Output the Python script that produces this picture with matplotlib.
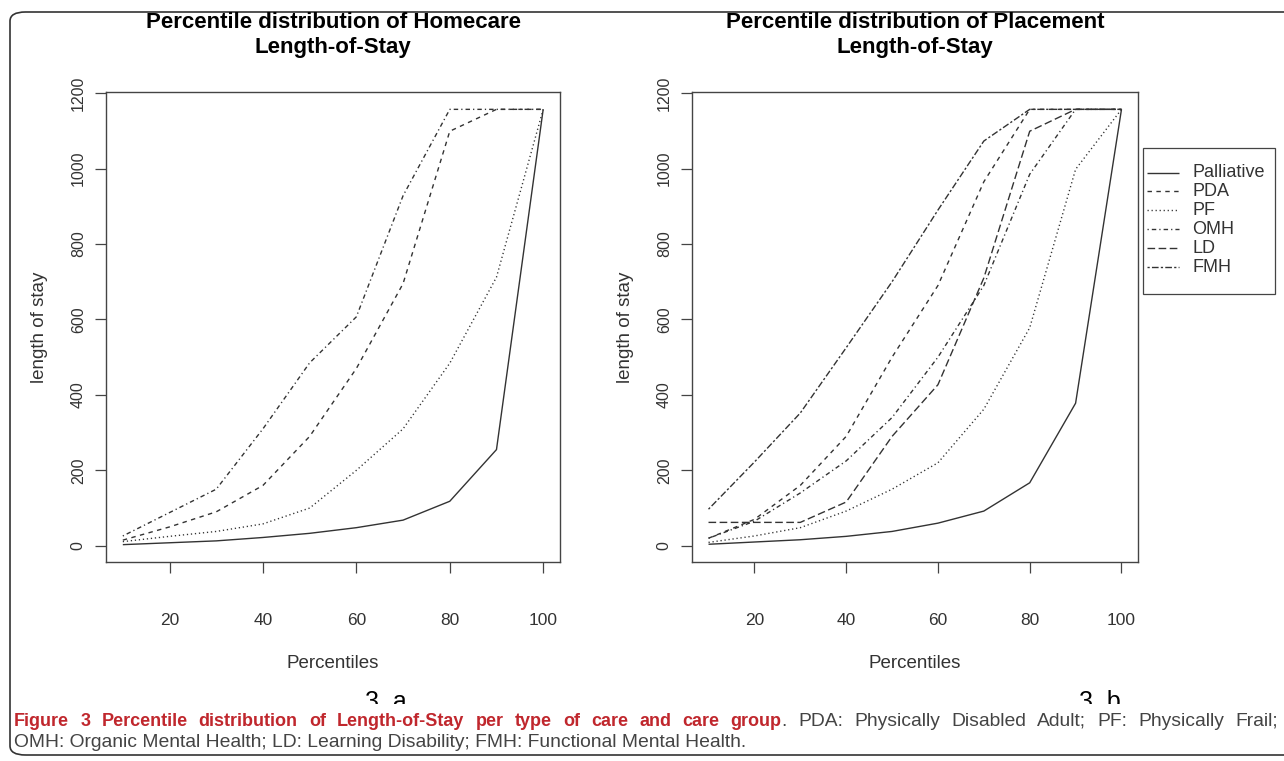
import matplotlib
matplotlib.use("Agg")
import matplotlib.pyplot as plt
from matplotlib.patches import FancyBboxPatch, Rectangle
from matplotlib.lines import Line2D

plt.rcParams["font.family"] = ["Liberation Sans", "DejaVu Sans"]

percentiles = [10, 20, 30, 40, 50, 60, 70, 80, 90, 100]

# homecare (3.a)
home_palliative = [3, 8, 13, 22, 33, 48, 68, 118, 255, 1157]
home_pda = [15, 50, 90, 160, 290, 470, 695, 1099, 1157, 1157]
home_pf = [11, 25, 38, 58, 100, 200, 310, 484, 712, 1157]
home_omh = [26, 88, 150, 310, 485, 607, 928, 1157, 1157, 1157]

# placement (3.b)
place_palliative = [4, 10, 16, 25, 38, 60, 92, 167, 378, 1157]
place_pda = [20, 70, 160, 290, 500, 690, 965, 1157, 1157, 1157]
place_pf = [9, 26, 48, 92, 150, 220, 362, 578, 998, 1157]
place_omh = [20, 65, 140, 225, 340, 500, 690, 985, 1157, 1157]
place_ld = [62, 62, 62, 116, 290, 427, 710, 1099, 1157, 1157]
place_fmh = [97, 222, 352, 525, 700, 890, 1073, 1157, 1157, 1157]

group_names = ["Palliative", "PDA", "PF", "OMH", "LD", "FMH"]
styles = {
    "Palliative": (0, ()),
    "PDA": (0, (3.2, 3.2)),
    "PF": (0, (0.9, 2.0)),
    "OMH": (0, (0.9, 2.2, 3.2, 2.2)),
    "LD": (0, (5.5, 2.5)),
    "FMH": (0, (1.6, 1.6, 4.8, 1.6)),
}
line_col = "#333333"
text_col = "#333333"

W, H = 1284, 761
fig = plt.figure(figsize=(W / 100, H / 100), dpi=100)


def fx(x):
    return x / W


def fy(y):
    return 1 - y / H


def px_axes(x0, y0, x1, y1):
    return fig.add_axes([fx(x0), fy(y1), (x1 - x0) / W, (y1 - y0) / H])


def style_ax(ax, title_lines, xlab_y, ylab_x):
    ax.set_xlim(6.4, 103.6)
    ax.set_ylim(-43, 1203)
    ax.set_xticks([20, 40, 60, 80, 100])
    ax.set_yticks([0, 200, 400, 600, 800, 1000, 1200])
    ax.tick_params(direction="out", length=8, width=0.9, colors="#444444",
                   labelcolor=text_col)
    ax.tick_params(axis="x", pad=29, labelsize=12.5)
    ax.tick_params(axis="y", pad=6.5, labelsize=11.5)
    for lab in ax.get_yticklabels():
        lab.set_rotation(90)
        lab.set_va("center")
    for s in ax.spines.values():
        s.set_linewidth(1.0)
        s.set_color("#444444")
    bb = ax.get_position()
    xc = (bb.x0 + bb.x1) / 2
    yc = (bb.y0 + bb.y1) / 2
    fig.text(xc, fy(xlab_y), "Percentiles", fontsize=13.5, color=text_col,
             ha="center", va="center")
    fig.text(fx(ylab_x), yc, "length of stay", fontsize=13.5, color=text_col,
             ha="center", va="center", rotation=90)
    fig.text(xc, fy(23), title_lines[0], fontsize=16, fontweight="bold",
             ha="center", va="center")
    fig.text(xc, fy(48), title_lines[1], fontsize=16, fontweight="bold",
             ha="center", va="center")


ax1 = px_axes(106, 92, 560, 562)
for name, vals in [("Palliative", home_palliative), ("PDA", home_pda),
                   ("PF", home_pf), ("OMH", home_omh)]:
    ax1.plot(percentiles, vals, color=line_col, lw=1.0, linestyle=styles[name])
style_ax(ax1, ["Percentile distribution of Homecare", "Length-of-Stay"], 663, 39)

ax2 = px_axes(692, 92, 1138, 562)
place = [place_palliative, place_pda, place_pf, place_omh, place_ld, place_fmh]
for name, vals in zip(group_names, place):
    ax2.plot(percentiles, vals, color=line_col, lw=1.0, linestyle=styles[name])
style_ax(ax2, ["Percentile distribution of Placement", "Length-of-Stay"], 663, 625)

# legend drawn by hand so its box matches the original layout
fig.add_artist(Rectangle((fx(1142.5), fy(294)), 132.5 / W, 145.7 / H,
                         transform=fig.transFigure, facecolor="white",
                         edgecolor="#444444", lw=0.9))
for i, name in enumerate(group_names):
    ry = 172.5 + i * 18.9
    fig.add_artist(Line2D([fx(1147), fx(1179)], [fy(ry), fy(ry)],
                          transform=fig.transFigure, color=line_col, lw=1.0,
                          linestyle=styles[name]))
    fig.text(fx(1192), fy(ry), name, fontsize=13, color=text_col,
             ha="left", va="center")

# sub-figure tags, bottom part cut off as in the source
fig.text(fx(386), fy(709), "3. a", fontsize=18, ha="center", va="baseline")
fig.text(fx(1100), fy(709), "3. b", fontsize=18, ha="center", va="baseline")
fig.add_artist(Rectangle((0.02, fy(710)), 0.97, 6 / H, transform=fig.transFigure,
                         facecolor="white", edgecolor="none", zorder=5))

# caption, first line justified from x=14 to x=1278
red = "#c0272d"
grey = "#444444"
bold_words = "Figure 3 Percentile distribution of Length-of-Stay per type of care and care group".split()
normal_words = "PDA: Physically Disabled Adult; PF: Physically Frail;".split()
tokens = [[(w, "bold", red, 13.0)] for w in bold_words]
tokens[-1].append((".", "normal", grey, 13.9))
tokens += [[(w, "normal", grey, 13.9)] for w in normal_words]

renderer = fig.canvas.get_renderer()
placed = []
total = 0.0
for tok in tokens:
    segs = []
    for s, wt, c, fs in tok:
        t = fig.text(0, fy(726), s, fontsize=fs, fontweight=wt, color=c,
                     va="baseline", ha="left", zorder=6)
        w = t.get_window_extent(renderer).width
        segs.append((t, w))
        total += w
    placed.append(segs)
gap = (1278 - 14 - total) / (len(tokens) - 1)
x = 14.0
for segs in placed:
    for t, w in segs:
        t.set_x(fx(x))
        x += w
    x += gap

fig.text(fx(14), fy(747),
         "OMH: Organic Mental Health; LD: Learning Disability; FMH: Functional Mental Health.",
         fontsize=13.9, color=grey, va="baseline", zorder=6)

# rounded page frame
fig.add_artist(FancyBboxPatch((fx(10), fy(755)), 1300 / W, 743 / H,
                              boxstyle="round,pad=0,rounding_size=0.012",
                              transform=fig.transFigure, facecolor="none",
                              edgecolor="#333333", lw=1.2, zorder=1))

fig.savefig("out.png", dpi=100)
